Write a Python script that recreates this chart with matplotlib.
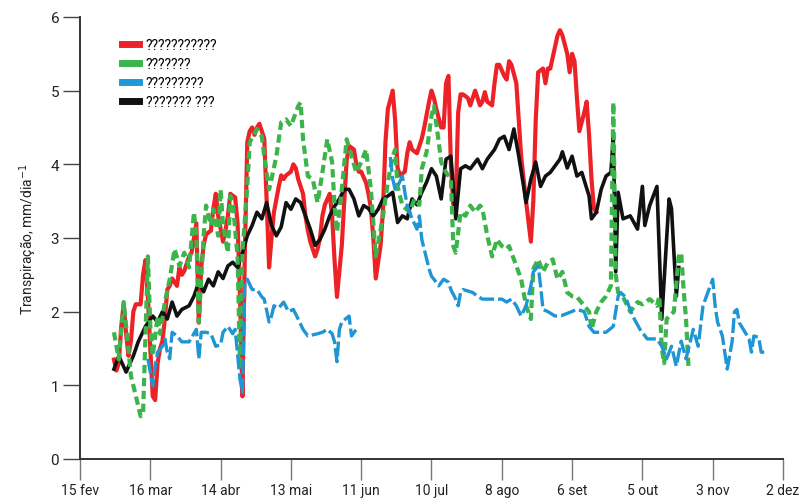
import numpy as np
import matplotlib
matplotlib.use('Agg')
import matplotlib.pyplot as plt
from matplotlib.lines import Line2D

plt.rcParams['font.family'] = ['Roboto', 'DejaVu Sans']

# dias contados a partir de 15 fev
tick_days = [0, 29, 58, 87, 116, 145, 174, 203, 232, 261, 290]
tick_labels = ['15 fev', '16 mar', '14 abr', '13 mai', '11 jun', '10 jul',
               '8 ago', '6 set', '5 out', '3 nov', '2 dez']

labels = ['???????????', '???????', '?????????', '??????? ???']

red_days = [14, 15, 16, 17, 18, 19, 20, 21, 22, 23, 25, 26, 27, 28, 29, 30, 31, 32, 33, 34,
            35, 36, 37, 38, 40, 41, 42, 43, 45, 46, 47, 48, 49, 50, 51, 52, 54, 55, 56, 57,
            59, 60, 61, 62, 64, 65, 66, 67, 68, 69, 70, 71, 72, 73, 74, 76, 77, 78, 79, 80,
            82, 83, 84, 85, 87, 88, 89, 90, 92, 93, 94, 95, 97, 98, 99, 100, 101, 103, 104, 105,
            106, 108, 109, 110, 111, 113, 114, 115, 116, 118, 119, 120, 121, 122, 124, 125, 126, 127, 129, 130,
            131, 132, 134, 135, 136, 137, 139, 140, 141, 142, 144, 145, 146, 147, 149, 150, 151, 152, 153, 154,
            155, 156, 157, 158, 160, 161, 162, 163, 165, 166, 167, 168, 170, 171, 172, 173, 175, 176, 177, 178,
            180, 181, 182, 183, 184, 186, 187, 188, 189, 191, 192, 193, 194, 196, 197, 198, 199, 201, 202, 203,
            204, 205, 206, 208, 209, 210, 211, 212, 213]
red_vals = [1.35, 1.2, 1.3, 1.8, 2.1, 1.7, 1.4, 1.6, 2.0, 2.1, 2.1, 2.5, 2.7, 2.2, 1.5, 0.85, 0.8, 1.3, 1.5, 1.6,
            1.9, 2.3, 2.35, 2.45, 2.35, 2.6, 2.5, 2.55, 2.75, 2.8, 3.0, 3.2, 1.85, 2.6, 2.9, 3.05, 3.1, 3.4, 3.6, 3.3,
            2.95, 3.1, 3.3, 3.6, 3.55, 3.2, 2.2, 0.85, 2.8, 4.3, 4.45, 4.5, 4.4, 4.5, 4.55, 4.35, 3.5, 2.6, 3.0, 3.35,
            3.7, 3.85, 3.8, 3.85, 3.9, 4.0, 3.95, 3.8, 3.6, 3.3, 3.1, 2.95, 2.75, 2.85, 3.0, 3.3, 3.45, 3.6, 3.3, 2.7,
            2.2, 2.9, 3.5, 4.05, 4.25, 4.2, 4.0, 3.9, 3.9, 3.75, 3.6, 3.4, 3.0, 2.45, 2.9, 3.4, 4.3, 4.75, 5.0, 4.6,
            3.95, 3.85, 3.9, 4.15, 4.3, 4.2, 4.15, 4.25, 4.35, 4.5, 4.85, 5.0, 4.9, 4.75, 4.5, 4.5, 5.1, 5.2, 4.0, 3.45,
            3.5, 4.7, 4.95, 4.95, 4.9, 4.8, 4.9, 5.0, 4.8, 4.85, 4.98, 4.85, 4.8, 5.1, 5.35, 5.35, 5.2, 5.15, 5.4, 5.35,
            5.1, 4.6, 4.1, 3.8, 3.5, 2.95, 3.5, 4.6, 5.25, 5.3, 5.1, 5.3, 5.3, 5.6, 5.75, 5.82, 5.75, 5.5, 5.25, 5.5,
            5.4, 4.9, 4.45, 4.7, 4.85, 4.4, 3.8, 3.4, 3.35]

green_days = [14, 16, 18, 20, 21, 23, 25, 26, 28, 29, 30, 32, 33, 35, 37, 39, 41, 43, 45, 47,
              48, 49, 51, 52, 54, 55, 57, 58, 59, 61, 62, 63, 65, 66, 67, 69, 70, 73, 75, 76,
              78, 79, 81, 83, 85, 87, 90, 91, 92, 94, 96, 98, 100, 101, 102, 104, 105, 106, 108, 110,
              112, 114, 116, 118, 120, 121, 122, 125, 127, 129, 130, 131, 133, 136, 138, 140, 141, 143, 145, 146,
              148, 149, 151, 153, 154, 155, 157, 159, 161, 163, 165, 166, 168, 170, 172, 174, 176, 177, 179, 182,
              183, 184, 186, 187, 189, 191, 193, 195, 197, 199, 201, 203, 205, 208, 210, 211, 213, 215, 217, 219,
              220, 221, 222, 224, 227, 230, 232, 235, 238, 239, 240, 241, 242, 245, 247, 248, 249, 250, 251]
green_vals = [1.72, 1.35, 2.13, 1.49, 1.13, 0.86, 0.58, 0.6, 2.75, 1.8, 1.4, 1.94, 1.7, 2.13, 2.44, 2.85, 2.62, 2.8, 2.6, 3.35,
              3.03, 1.86, 3.03, 3.44, 3.17, 3.39, 3.03, 3.66, 3.17, 2.8, 3.57, 3.48, 2.75, 1.22, 2.8, 3.7, 4.3, 4.48, 4.38, 4.11,
              3.66, 3.8, 4.11, 4.57, 4.61, 4.52, 4.79, 4.84, 4.34, 3.84, 3.8, 3.48, 3.89, 4.11, 4.34, 4.03, 3.44, 3.08, 3.66, 4.34,
              4.11, 3.89, 4.03, 4.2, 3.66, 3.21, 2.75, 3.3, 3.76, 4.11, 4.2, 3.7, 3.44, 3.35, 3.53, 3.45, 3.94, 4.17, 4.66, 4.79,
              4.3, 4.03, 3.89, 3.8, 2.89, 2.8, 3.35, 3.3, 3.44, 3.35, 3.44, 3.4, 3.03, 2.75, 2.98, 2.89, 2.85, 2.89, 2.71, 2.44,
              2.26, 2.08, 1.9, 2.58, 2.71, 2.54, 2.67, 2.71, 2.44, 2.54, 2.26, 2.21, 2.2, 2.08, 2.0, 1.76, 2.0, 2.13, 2.21, 2.35,
              4.84, 2.5, 2.26, 2.2, 2.0, 2.13, 2.1, 2.17, 2.08, 2.21, 1.5, 1.3, 1.9, 2.0, 2.75, 2.8, 2.3, 1.9, 1.26]

blue_days = [28, 30, 31, 32, 34, 35, 36, 37, 38, 40, 42, 45, 48, 49, 50, 52, 54, 56, 58, 59,
             61, 63, 64, 66, 67, 68, 69, 71, 73, 75, 76, 78, 79, 80, 82, 84, 86, 88, 90, 92,
             94, 98, 100, 102, 104, 105, 106, 107, 108, 111, 112, 114, 120, 128, 129, 130, 131, 133, 134, 135,
             137, 139, 140, 141, 143, 144, 145, 146, 148, 150, 152, 153, 155, 156, 157, 158, 162, 164, 166, 168,
             174, 176, 178, 180, 182, 184, 186, 187, 189, 190, 191, 193, 196, 199, 205, 208, 210, 212, 217, 220,
             222, 223, 225, 228, 231, 234, 238, 240, 242, 244, 246, 248, 250, 253, 255, 257, 259, 261, 262, 263,
             265, 267, 269, 270, 271, 272, 276, 277, 278, 280, 281, 283]
blue_vals = [1.36, 0.99, 1.26, 1.45, 1.53, 1.63, 1.45, 1.36, 1.72, 1.67, 1.59, 1.59, 1.76, 1.36, 1.72, 1.72, 1.7, 1.53, 1.55, 1.72,
             1.8, 1.7, 1.76, 1.08, 0.9, 2.4, 2.44, 2.3, 2.3, 2.2, 2.17, 1.86, 1.94, 2.08, 2.05, 2.13, 2.0, 2.03, 1.9, 1.76,
             1.67, 1.7, 1.72, 1.76, 1.7, 1.59, 1.32, 1.76, 1.86, 1.94, 1.67, 1.76, np.nan, 4.1, 3.8, 3.66, 3.7, 3.84, 3.62, 3.44,
             3.26, 3.12, 3.3, 2.98, 2.71, 2.58, 2.48, 2.44, 2.35, 2.44, 2.4, 2.3, 2.17, 2.08, 2.26, 2.3, 2.26, 2.21, 2.17, 2.17,
             2.17, 2.13, 2.17, 2.08, 1.94, 2.08, 2.35, 2.54, 2.62, 2.35, 2.03, 2.0, 1.94, 1.95, 2.03, 2.0, 1.8, 1.72, 1.72, 1.8,
             2.21, 2.26, 2.2, 1.94, 1.76, 1.63, 1.63, 1.53, 1.36, 1.53, 1.26, 1.6, 1.36, 1.76, 1.53, 2.08, 2.26, 2.44, 2.08, 1.86,
             1.67, 1.22, 1.59, 2.0, 2.03, 1.85, 1.63, 1.45, 1.67, 1.65, 1.45, 1.45]

black_days = [14, 16, 19, 22, 24, 27, 30, 32, 34, 36, 38, 40, 42, 45, 47, 49, 51, 53, 55, 57,
              59, 61, 63, 65, 67, 69, 71, 73, 75, 77, 79, 81, 83, 85, 87, 89, 91, 93, 95, 97,
              99, 101, 103, 105, 107, 109, 111, 113, 115, 117, 119, 121, 123, 125, 127, 129, 131, 133, 135, 137,
              139, 141, 143, 145, 147, 149, 151, 153, 155, 157, 159, 161, 164, 166, 168, 171, 173, 175, 177, 179,
              181, 183, 184, 186, 188, 190, 192, 194, 196, 198, 199, 201, 203, 205, 207, 210, 211, 213, 215, 217,
              219, 220, 221, 222, 224, 227, 230, 232, 233, 235, 238, 240, 243, 244, 246, 247]
black_vals = [1.22, 1.4, 1.18, 1.4, 1.59, 1.8, 1.94, 1.86, 2.0, 1.9, 2.13, 1.94, 2.03, 2.08, 2.21, 2.4, 2.27, 2.44, 2.35, 2.54,
              2.45, 2.62, 2.67, 2.6, 2.8, 3.03, 3.17, 3.35, 3.26, 3.48, 3.17, 3.03, 3.15, 3.48, 3.39, 3.53, 3.48, 3.3, 3.12, 2.9,
              2.98, 3.12, 3.3, 3.43, 3.53, 3.66, 3.66, 3.53, 3.3, 3.44, 3.4, 3.3, 3.39, 3.53, 3.57, 3.62, 3.21, 3.3, 3.26, 3.53,
              3.45, 3.62, 3.76, 3.94, 3.84, 3.53, 4.07, 4.11, 3.26, 3.94, 3.98, 3.94, 4.07, 3.94, 4.07, 4.2, 4.34, 4.38, 4.2, 4.48,
              4.11, 3.7, 3.48, 3.8, 4.03, 3.7, 3.84, 3.89, 3.98, 4.07, 4.17, 3.95, 4.11, 3.84, 3.89, 3.57, 3.26, 3.35, 3.66, 3.84,
              3.89, 4.38, 2.54, 3.62, 3.26, 3.3, 3.12, 3.7, 3.17, 3.44, 3.7, 1.9, 3.53, 3.4, 2.21, 2.6]

fig = plt.figure(figsize=(8.01, 5.02), dpi=100)
ax = fig.add_axes([0.0999, 0.0837, 0.8776, 0.8805])

ax.plot(red_days, red_vals, color='#ec2227', lw=3.0, solid_joinstyle='round', zorder=2)
ax.plot(black_days, black_vals, color='#111111', lw=2.6, solid_joinstyle='round', zorder=3)
ax.plot(green_days, green_vals, color='#3cb44b', lw=3.0, dashes=(2.0, 1.1), zorder=4)
ax.plot(blue_days, blue_vals, color='#1f95d3', lw=2.4, dashes=(4.5, 1.2), zorder=5)

ax.set_xlim(0, 290)
ax.set_ylim(0, 6)
ax.set_xticks(tick_days)
ax.set_xticklabels(tick_labels, fontsize=10)
ax.set_yticks(range(0, 7))
ax.tick_params(axis='y', length=12, width=1, color='#444444', pad=3, labelsize=11, labelcolor='#222222')
ax.tick_params(axis='x', length=15, width=1, color='#777777', pad=2, labelcolor='#222222')

for s in ['top', 'right']:
    ax.spines[s].set_visible(False)
for s in ['left', 'bottom']:
    ax.spines[s].set_color('#333333')
    ax.spines[s].set_linewidth(1.4)

ax.set_ylabel('Transpiração, mm/dia$^{-1}$', fontsize=10, color='#222222', labelpad=8)

colors = ['#ec2227', '#3cb44b', '#1f9ad8', '#111111']
handles = [Line2D([0], [0], color=c, lw=5) for c in colors]
ax.legend(handles, labels, loc='upper left', bbox_to_anchor=(0.05, 0.968), frameon=False,
          fontsize=10, handlelength=1.2, handletextpad=0.5, labelspacing=0.35, borderpad=0)

fig.savefig('out.png', dpi=100)
